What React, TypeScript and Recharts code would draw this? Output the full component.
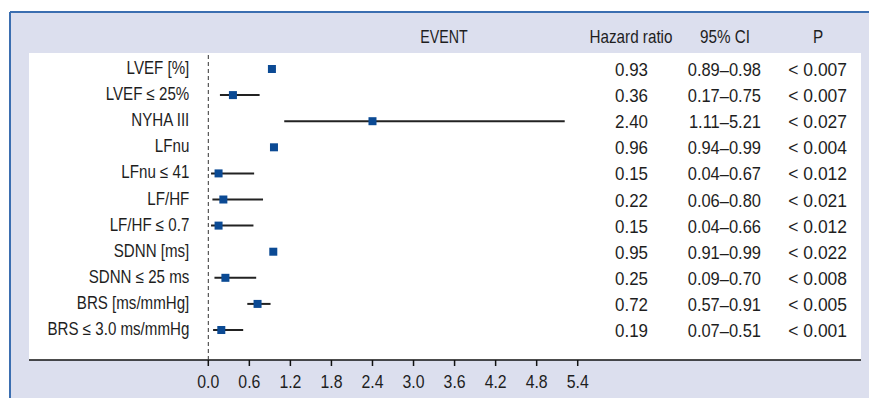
import React from 'react';
import { ScatterChart, Scatter, XAxis, YAxis, ErrorBar, ReferenceLine } from 'recharts';

const FONT = "'Liberation Sans', Arial, Helvetica, sans-serif";

const labels = [
  'LVEF [%]',
  'LVEF ≤ 25%',
  'NYHA III',
  'LFnu',
  'LFnu ≤ 41',
  'LF/HF',
  'LF/HF ≤ 0.7',
  'SDNN [ms]',
  'SDNN ≤ 25 ms',
  'BRS [ms/mmHg]',
  'BRS ≤ 3.0 ms/mmHg',
];
const hazard = [0.93, 0.36, 2.4, 0.96, 0.15, 0.22, 0.15, 0.95, 0.25, 0.72, 0.19];
const ciLow = [0.89, 0.17, 1.11, 0.94, 0.04, 0.06, 0.04, 0.91, 0.09, 0.57, 0.07];
const ciHigh = [0.98, 0.75, 5.21, 0.99, 0.67, 0.8, 0.66, 0.99, 0.7, 0.91, 0.51];
const pValues = ['< 0.007', '< 0.007', '< 0.027', '< 0.004', '< 0.012', '< 0.021', '< 0.012', '< 0.022', '< 0.008', '< 0.005', '< 0.001'];
const xTicks = [0, 0.6, 1.2, 1.8, 2.4, 3.0, 3.6, 4.2, 4.8, 5.4];
const headers = ['EVENT', 'Hazard ratio', '95% CI', 'P'];

const rowIdx = labels.map((_, i) => i);
const data = labels.map((_, i) => ({
  x: hazard[i],
  y: i,
  err: [hazard[i] - ciLow[i], ciHigh[i] - hazard[i]],
}));

const TEXT = '#1e1e1e';

const NText = ({ x, y, anchor, sx = 0.85, children }: any) => (
  <text
    transform={`translate(${x},${y}) scale(${sx},1)`}
    x={0}
    y={0}
    textAnchor={anchor}
    fill={TEXT}
    fontSize={18}
    fontFamily={FONT}
  >
    {children}
  </text>
);

const RowTick = (props: any) => {
  const { x, y, payload } = props;
  const i = payload?.value;
  if (typeof i !== 'number' || i < 0 || i >= labels.length) return null;
  return (
    <g>
      <NText x={x} y={y + 5} anchor="end" sx={0.84}>{labels[i]}</NText>
      <NText x={648} y={y + 7} anchor="end" sx={0.94}>{hazard[i].toFixed(2)}</NText>
      <NText x={761} y={y + 7} anchor="end" sx={0.915}>{`${ciLow[i].toFixed(2)}–${ciHigh[i].toFixed(2)}`}</NText>
      <NText x={847} y={y + 7} anchor="end" sx={0.97}>{pValues[i]}</NText>
    </g>
  );
};

const XTick = (props: any) => {
  const { x, y, payload } = props;
  return (
    <NText x={x} y={y + 13} anchor="middle" sx={0.88}>{Number(payload.value).toFixed(1)}</NText>
  );
};

const Square = (props: any) => {
  const { cx, cy } = props;
  return <rect x={cx - 4} y={cy - 4} width={8} height={8} fill="#0b4a94" />;
};

export default function App() {
  const headerX = [444, 631, 725, 818];
  const headerSx = [0.79, 0.847, 0.847, 0.85];
  return (
    <div style={{ position: 'absolute', left: 0, top: 0, width: 869, height: 398, background: '#fff' }}>
      <svg width={869} height={398} style={{ position: 'absolute', left: 0, top: 0 }}>
        <rect x={10} y={12} width={859} height={386} fill="#dcdfee" />
        <line x1={10} y1={12} x2={869} y2={12} stroke="#3b6eb0" strokeWidth={2} />
        <line x1={10} y1={12} x2={10} y2={398} stroke="#3b6eb0" strokeWidth={2} />
        <rect x={29} y={53} width={832} height={307} fill="#ffffff" />
        <line x1={29} y1={360} x2={861} y2={360} stroke="#111" strokeWidth={1.5} />
        {headers.map((h, i) => (
          <NText key={h} x={headerX[i]} y={42.5} anchor="middle" sx={headerSx[i]}>
            {h}
          </NText>
        ))}
      </svg>
      <div style={{ position: 'absolute', left: 0, top: 0 }}>
        <ScatterChart width={869} height={398} margin={{ top: 53, right: 8, bottom: 0, left: 0 }}>
          <XAxis
            type="number"
            dataKey="x"
            domain={[0, 9.541]}
            allowDataOverflow
            ticks={xTicks}
            interval={0}
            axisLine={false}
            tickLine={{ stroke: '#111', strokeWidth: 1.5 }}
            tickSize={6}
            tickMargin={9}
            height={38}
            tick={<XTick />}
          />
          <YAxis
            type="number"
            dataKey="y"
            domain={[-0.613, 11.149]}
            allowDataOverflow
            reversed
            ticks={rowIdx}
            interval={0}
            tick={<RowTick />}
            tickLine={false}
            axisLine={false}
            tickSize={0}
            tickMargin={19}
            width={208.3}
          />
          <ReferenceLine x={0} stroke="#333" strokeDasharray="4 3" strokeWidth={1} ifOverflow="extendDomain" />
          <Scatter data={data} shape={<Square />} fill="#0b4a94" isAnimationActive={false}>
            <ErrorBar dataKey="err" direction="x" width={0} stroke="#222" strokeWidth={2} isAnimationActive={false} />
          </Scatter>
        </ScatterChart>
      </div>
    </div>
  );
}
